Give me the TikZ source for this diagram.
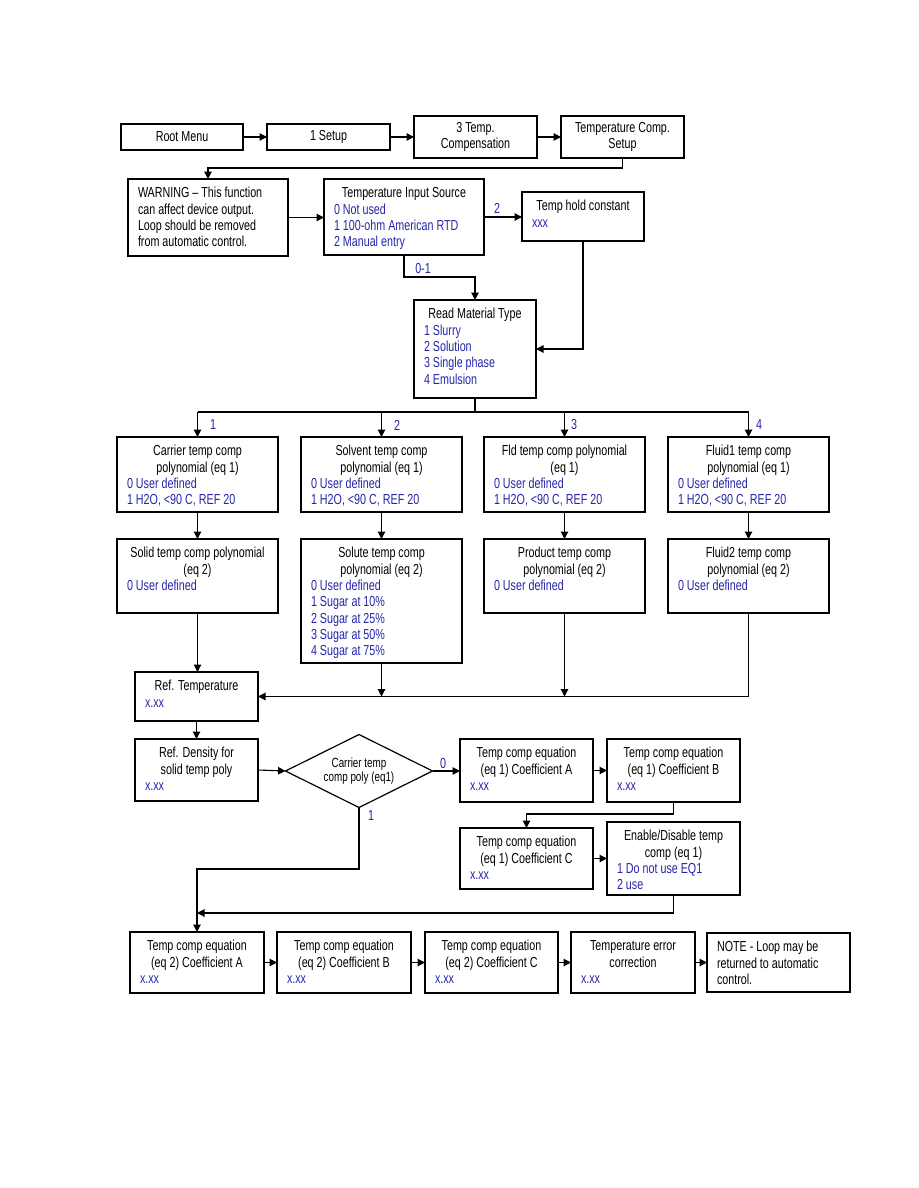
\documentclass[tikz,border=0pt]{standalone}
\usepackage{fontspec}
\setmainfont{Liberation Sans}[FakeStretch=0.74]
\usetikzlibrary{shapes.geometric,arrows.meta}
\definecolor{tblue}{RGB}{38,38,170}
\newlength{\bxpad}\setlength{\bxpad}{10pt}
\newcommand{\bx}[3]{\hspace*{\bxpad}\parbox[c][#2][t]{\dimexpr#1-2\bxpad\relax}{\vspace*{7.5pt}#3}\hspace*{\bxpad}}
\newcommand{\ttl}[1]{{\centering\strut#1\par}}
\newcommand{\itm}[1]{{\raggedright\color{tblue}\strut#1\par}}
\newcommand{\lft}[1]{{\raggedright\strut#1\par}}
\tikzset{
  box/.style={draw, line width=1.2pt, inner sep=0pt, outer sep=0pt, anchor=north west, font=\fontsize{14.5}{16.3}\selectfont},
  sbox/.style={draw, line width=1.2pt, inner sep=0pt, outer sep=0pt, anchor=north west, align=center, font=\fontsize{14.5}{16.3}\selectfont},
  ln/.style={line width=1.1pt},
  arr/.style={line width=1.1pt, -{Triangle[length=7.5pt,width=7.5pt]}},
  lbl/.style={text=tblue, font=\fontsize{14.5}{16}\selectfont, inner sep=0pt}
}
\begin{document}
\begin{tikzpicture}[x=1pt,y=-1pt]
\fill[white] (0,0) rectangle (918,1188);
\path[use as bounding box] (0,0) rectangle (918,1188);

% top row
\node[sbox, minimum width=122pt, minimum height=26pt] (root) at (121,124) {Root Menu};
\node[sbox, minimum width=123pt, minimum height=26pt] (setup) at (267,124) {1 Setup};
\node[sbox, minimum width=123pt, minimum height=42pt] (tcomp) at (414,116) {3 Temp.\\Compensation};
\node[sbox, minimum width=123pt, minimum height=42pt] (tcs) at (561,116) {Temperature Comp.\\Setup};

% second row
\node[box] (warn) at (128,179) {\bx{160pt}{77pt}{\lft{WARNING \textendash{} This function\\can affect device output.\\Loop should be removed\\from automatic control.}}};
\node[box] (tis) at (324,179) {\bx{160pt}{76pt}{\ttl{Temperature Input Source}\itm{0 Not used\\1 100-ohm American RTD\\2 Manual entry}}};
\node[box] (thc) at (522,192) {\bx{122pt}{49pt}{\ttl{Temp hold constant}\itm{xxx}}};

\node[box] (rmt) at (414,300) {\bx{122pt}{98pt}{\ttl{Read Material Type}\itm{1 Slurry\\2 Solution\\3 Single phase\\4 Emulsion}}};

% columns
\node[box] (carrier) at (117,437) {\bx{161pt}{75pt}{\ttl{Carrier temp comp\\polynomial (eq 1)}\itm{0 User defined\\1 H2O, <90 C, REF 20}}};
\node[box] (solvent) at (301,437) {\bx{161pt}{75pt}{\ttl{Solvent temp comp\\polynomial (eq 1)}\itm{0 User defined\\1 H2O, <90 C, REF 20}}};
\node[box] (fld) at (484,437) {\bx{161pt}{75pt}{\ttl{Fld temp comp polynomial\\(eq 1)}\itm{0 User defined\\1 H2O, <90 C, REF 20}}};
\node[box] (fluid1) at (668,437) {\bx{161pt}{75pt}{\ttl{Fluid1 temp comp\\polynomial (eq 1)}\itm{0 User defined\\1 H2O, <90 C, REF 20}}};

\node[box] (solid) at (117,539) {\bx{161pt}{74pt}{\ttl{Solid temp comp polynomial\\(eq 2)}\itm{0 User defined}}};
\node[box] (solute) at (301,539) {\bx{161pt}{124pt}{\ttl{Solute temp comp\\polynomial (eq 2)}\itm{0 User defined\\1 Sugar at 10\%\\2 Sugar at 25\%\\3 Sugar at 50\%\\4 Sugar at 75\%}}};
\node[box] (product) at (484,539) {\bx{161pt}{74pt}{\ttl{Product temp comp\\polynomial (eq 2)}\itm{0 User defined}}};
\node[box] (fluid2) at (668,539) {\bx{161pt}{74pt}{\ttl{Fluid2 temp comp\\polynomial (eq 2)}\itm{0 User defined}}};

% reference
\node[box] (reftemp) at (135,672) {\bx{123pt}{49pt}{\ttl{Ref. Temperature}\itm{x.xx}}};
\node[box] (refdens) at (135,739) {\bx{123pt}{62pt}{\ttl{Ref. Density for\\solid temp poly}\itm{x.xx}}};
\node[diamond, draw, line width=1.2pt, aspect=2, inner sep=0pt, outer sep=0pt, minimum width=147pt, minimum height=73pt, align=center, font=\fontsize{13.3}{14}\selectfont] (dia) at (359,771) {Carrier temp\\comp poly (eq1)};

\node[box] (coefA1) at (460,739) {\bx{133pt}{63pt}{\ttl{Temp comp equation\\(eq 1) Coefficient A}\itm{x.xx}}};
\node[box] (coefB1) at (607,739) {\bx{133pt}{63pt}{\ttl{Temp comp equation\\(eq 1) Coefficient B}\itm{x.xx}}};
\node[box] (coefC1) at (460,828) {\bx{133pt}{61pt}{\ttl{Temp comp equation\\(eq 1) Coefficient C}\itm{x.xx}}};
\node[box] (enable) at (607,822) {\bx{133pt}{73pt}{\ttl{Enable/Disable temp\\comp (eq 1)}\itm{1 Do not use EQ1\\2 use}}};

% bottom row
\node[box] (A2) at (130,932) {\bx{134pt}{61pt}{\ttl{Temp comp equation\\(eq 2) Coefficient A}\itm{x.xx}}};
\node[box] (B2) at (277,932) {\bx{134pt}{61pt}{\ttl{Temp comp equation\\(eq 2) Coefficient B}\itm{x.xx}}};
\node[box] (C2) at (425,932) {\bx{133pt}{61pt}{\ttl{Temp comp equation\\(eq 2) Coefficient C}\itm{x.xx}}};
\node[box] (err) at (571,932) {\bx{124pt}{61pt}{\ttl{Temperature error\\correction}\itm{x.xx}}};
\node[box] (note) at (707,933) {\bx{143pt}{59pt}{\lft{NOTE - Loop may be\\returned to automatic\\control.}}};

% junction coordinates
\coordinate (j1) at (0,168);
\coordinate (j2) at (0,277);
\coordinate (j3) at (0,412);
\coordinate (j4) at (0,814);
\coordinate (j5) at (0,869);
\coordinate (j6) at (0,913);

% connectors
\draw[arr] (root.east) -- (setup.west |- root.east);
\draw[arr] (setup.east) -- (tcomp.west |- setup.east);
\draw[arr] (tcomp.east) -- (tcs.west |- tcomp.east);
\draw[arr] (tcs.south) -- (tcs.south |- j1) -| (warn.north);
\draw[arr] (warn.east) -- (tis.west |- warn.east);
\draw[arr] (tis.east) -- (thc.west |- tis.east);
\draw[arr] (tis.south) -- (tis.south |- j2) -| (rmt.north);
\draw[arr] (thc.south) |- (rmt.east);

\draw[ln] (rmt.south) -- (rmt.south |- j3);
\draw[ln] (carrier.north |- j3) -- (fluid1.north |- j3);
\draw[arr] (carrier.north |- j3) -- (carrier.north);
\draw[arr] (solvent.north |- j3) -- (solvent.north);
\draw[arr] (fld.north |- j3) -- (fld.north);
\draw[arr] (fluid1.north |- j3) -- (fluid1.north);

\draw[arr] (carrier.south) -- (solid.north);
\draw[arr] (solvent.south) -- (solute.north);
\draw[arr] (fld.south) -- (product.north);
\draw[arr] (fluid1.south) -- (fluid2.north);

\draw[arr] (solid.south) -- (solid.south |- reftemp.north);
\draw[arr] (fluid2.south) |- (reftemp.east);
\draw[arr] (solute.south) -- (solute.south |- reftemp.east);
\draw[arr] (product.south) -- (product.south |- reftemp.east);

\draw[arr] (reftemp.south) -- (refdens.north);
\draw[arr] (refdens.east) -- (dia.west);
\draw[arr] (dia.east) -- (coefA1.west |- dia.east);
\draw[arr] (coefA1.east) -- (coefB1.west |- coefA1.east);
\draw[arr] (coefB1.south) -- (coefB1.south |- j4) -| (coefC1.north);
\draw[arr] (coefC1.east) -- (enable.west |- coefC1.east);
\draw[arr] (dia.south) -- (dia.south |- j5) -| (A2.north);
\draw[arr] (enable.south) |- (A2.north |- j6);

\draw[arr] (A2.east) -- (B2.west |- A2.east);
\draw[arr] (B2.east) -- (C2.west |- B2.east);
\draw[arr] (C2.east) -- (err.west |- C2.east);
\draw[arr] (err.east) -- (note.west |- err.east);

% labels
\node[lbl] (l2) at (497,208) {2};
\node[lbl] (l01) at (423,269) {0-1};
\node[lbl] (c1) at (213,425) {1};
\node[lbl] (c2) at (397,425) {2};
\node[lbl] (c3) at (574,425) {3};
\node[lbl] (c4) at (759,425) {4};
\node[lbl] (l0) at (443,763) {0};
\node[lbl] (l1) at (371,816) {1};
\end{tikzpicture}
\end{document}
